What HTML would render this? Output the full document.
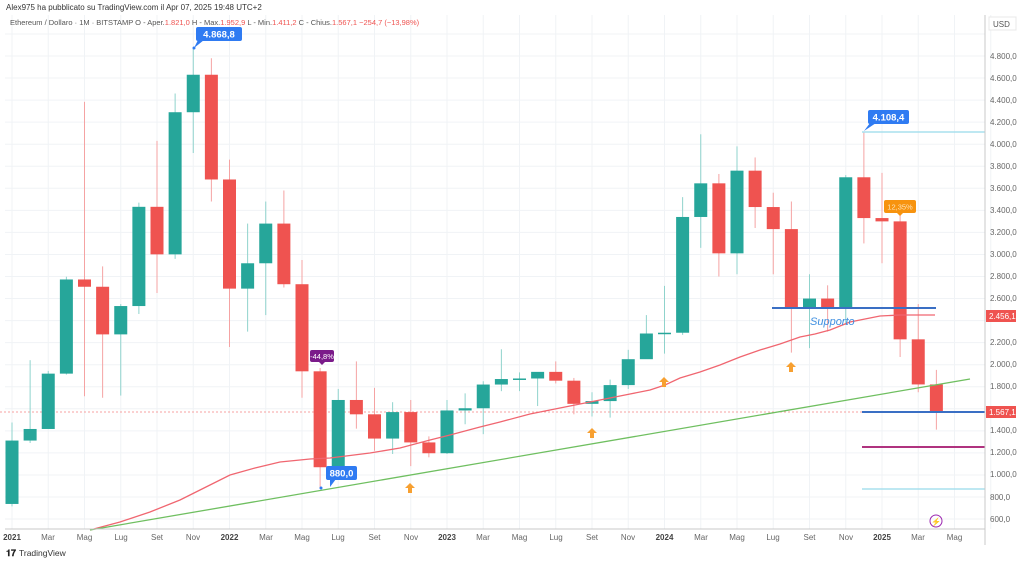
<!DOCTYPE html>
<html><head><meta charset="utf-8"><style>
body{margin:0;width:1024px;height:564px;background:#fff;overflow:hidden;font-family:"Liberation Sans",sans-serif}
svg{position:absolute;left:0;top:0}
</style></head><body>
<svg id="s" width="1024" height="564" xmlns="http://www.w3.org/2000/svg" font-family="Liberation Sans, sans-serif">
<rect x="0" y="0" width="1024" height="564" fill="#fff"/>
<g id="grid"></g>
<line x1="0" y1="412" x2="985" y2="412" stroke="#f7a1a0" stroke-dasharray="2,2" stroke-width="1"/>
<g id="candles"></g>
<polyline fill="none" stroke="#f06670" stroke-width="1.3" points="90,530 120,522 150,512 180,500 200,490 230,475 255,468 280,462 310,459 330,458 370,453 400,448 430,440 450,435 480,427 500,422 530,414 550,410 580,404 600,400 630,394 650,390 665,385 680,378 700,372 720,365 740,357 760,350 780,344 800,337 815,334 830,330 850,322 865,319 880,316 900,315 935,315"/>
<line x1="90" y1="530" x2="970" y2="379" stroke="#6fbf60" stroke-width="1.3"/>
<line x1="772" y1="308" x2="936" y2="308" stroke="#3a6fc4" stroke-width="2"/>
<text x="810" y="325" font-size="11" font-style="italic" fill="#3f8fe0">Supporto</text>
<line x1="862" y1="412" x2="985" y2="412" stroke="#3a6fc4" stroke-width="2"/>
<line x1="862" y1="447" x2="985" y2="447" stroke="#b0337f" stroke-width="2"/>
<line x1="862" y1="489" x2="985" y2="489" stroke="#a8e0ee" stroke-width="1.5"/>
<line x1="862" y1="132" x2="985" y2="132" stroke="#a8e0ee" stroke-width="1.5"/>
<!-- arrows -->
<g fill="#f7a031">
<path d="M410,483 l-5,5 h3 v5 h4 v-5 h3 z"/>
<path d="M592,428 l-5,5 h3 v5 h4 v-5 h3 z"/>
<path d="M664,377 l-5,5 h3 v5 h4 v-5 h3 z"/>
<path d="M791,362 l-5,5 h3 v5 h4 v-5 h3 z"/>
</g>
<!-- callouts -->
<rect x="196" y="27" width="46" height="14" rx="2" fill="#2f7bf2"/><path d="M198,40 l6,0 l-10,8 z" fill="#2f7bf2"/>
<circle cx="194" cy="48" r="1.5" fill="#2f7bf2"/>
<text x="219" y="37.5" font-size="9.5" font-weight="bold" fill="#fff" text-anchor="middle">4.868,8</text>
<rect x="868" y="110" width="41" height="14" rx="2" fill="#2f7bf2"/><path d="M870,123 l6,0 l-12,8 z" fill="#2f7bf2"/>
<text x="888.5" y="120.5" font-size="9.5" font-weight="bold" fill="#fff" text-anchor="middle">4.108,4</text>
<rect x="884" y="200" width="32" height="13" rx="2" fill="#f7930f"/><path d="M896,212 l8,0 l-4,4 z" fill="#f7930f"/>
<text x="900" y="209.5" font-size="7.5" fill="#fde3b8" text-anchor="middle">12,35%</text>
<rect x="310" y="350" width="24" height="12" rx="2" fill="#7b1b8a"/><path d="M318,361 l8,0 l-4,4 z" fill="#7b1b8a"/>
<text x="322" y="359" font-size="7.5" fill="#fff" text-anchor="middle">-44,8%</text>
<rect x="326" y="466" width="31" height="14" rx="2" fill="#2f7bf2"/><path d="M330,479 l6,0 l-6,8 z" fill="#2f7bf2"/>
<circle cx="321" cy="488" r="1.5" fill="#2f7bf2"/>
<text x="341.5" y="476.5" font-size="9.5" font-weight="bold" fill="#fff" text-anchor="middle">880,0</text>
<circle cx="936" cy="521" r="6" fill="none" stroke="#9c27b0" stroke-width="1"/>
<text x="936" y="524.5" font-size="8" fill="#9c27b0" text-anchor="middle">⚡</text>
<!-- axes -->
<line x1="985" y1="15" x2="985" y2="545" stroke="#c8c8c8"/>
<line x1="5" y1="529" x2="985" y2="529" stroke="#c8c8c8"/>
<rect x="989" y="17" width="27" height="13" fill="#fff" stroke="#e8e8e8"/>
<text x="993" y="27" font-size="8" fill="#555">USD</text>
<g font-size="8" fill="#666">
<text x="990" y="59">4.800,0</text><text x="990" y="81">4.600,0</text><text x="990" y="103">4.400,0</text><text x="990" y="125">4.200,0</text><text x="990" y="147">4.000,0</text><text x="990" y="169">3.800,0</text><text x="990" y="191">3.600,0</text><text x="990" y="213">3.400,0</text><text x="990" y="235">3.200,0</text><text x="990" y="257">3.000,0</text><text x="990" y="279">2.800,0</text><text x="990" y="301">2.600,0</text><text x="990" y="345">2.200,0</text><text x="990" y="367">2.000,0</text><text x="990" y="389">1.800,0</text><text x="990" y="433">1.400,0</text><text x="990" y="455">1.200,0</text><text x="990" y="477">1.000,0</text><text x="990" y="500">800,0</text><text x="990" y="522">600,0</text>
</g>
<rect x="986" y="310" width="30" height="12" fill="#ef5350"/><text x="989" y="319" font-size="8" fill="#fff">2.456,1</text>
<rect x="986" y="406" width="30" height="12" fill="#ef5350"/><text x="989" y="415" font-size="8" fill="#fff">1.567,1</text>
<g font-size="8" fill="#666" text-anchor="middle">
<text x="12" y="540" font-weight="bold" fill="#444">2021</text><text x="48" y="540">Mar</text><text x="84.5" y="540">Mag</text><text x="121" y="540">Lug</text><text x="157" y="540">Set</text><text x="193" y="540">Nov</text>
<text x="229.5" y="540" font-weight="bold" fill="#444">2022</text><text x="266" y="540">Mar</text><text x="302" y="540">Mag</text><text x="338" y="540">Lug</text><text x="374.5" y="540">Set</text><text x="411" y="540">Nov</text>
<text x="447" y="540" font-weight="bold" fill="#444">2023</text><text x="483" y="540">Mar</text><text x="519.5" y="540">Mag</text><text x="556" y="540">Lug</text><text x="592" y="540">Set</text><text x="628" y="540">Nov</text>
<text x="664.5" y="540" font-weight="bold" fill="#444">2024</text><text x="701" y="540">Mar</text><text x="737" y="540">Mag</text><text x="773" y="540">Lug</text><text x="809.5" y="540">Set</text><text x="846" y="540">Nov</text>
<text x="882" y="540" font-weight="bold" fill="#444">2025</text><text x="918" y="540">Mar</text><text x="954.5" y="540">Mag</text>
</g>
<text x="6" y="10" font-size="8" fill="#333">Alex975 ha pubblicato su TradingView.com il Apr 07, 2025 19:48 UTC+2</text>
<text x="10" y="25" font-size="7.5" fill="#555">Ethereum / Dollaro · 1M · BITSTAMP  O - Aper.<tspan fill="#ef5350">1.821,0</tspan>  H - Max.<tspan fill="#ef5350">1.952,9</tspan>  L - Min.<tspan fill="#ef5350">1.411,2</tspan>  C - Chius.<tspan fill="#ef5350">1.567,1  −254,7 (−13,98%)</tspan></text>
<text x="6" y="556" font-size="9" font-weight="bold" fill="#222">𝟏𝟕</text>
<text x="19" y="556" font-size="8.5" fill="#333">TradingView</text>
</svg>
<script>
var d=[[737,1476,715,1312],[1312,2041,1290,1417],[1417,1944,1432,1919],[1919,2798,1910,2773],[2773,4384,1714,2707],[2707,2892,1700,2275],[2275,2550,1720,2532],[2532,3470,2460,3432],[3432,4030,2650,3001],[3001,4460,2960,4290],[4290,4868,3920,4630],[4630,4780,3480,3680],
[3680,3860,2160,2690],[2690,3280,2300,2920],[2920,3480,2450,3280],[3280,3580,2700,2730],[2730,2950,1700,1940],[1940,1970,880,1070],[1070,1780,1000,1680],[1680,2030,1420,1550],[1550,1790,1220,1330],[1330,1660,1190,1570],[1570,1680,1080,1295],[1295,1350,1160,1197],
[1197,1680,1190,1585],[1585,1740,1460,1605],[1605,1850,1370,1820],[1820,2140,1760,1870],[1870,1930,1760,1875],[1875,1930,1625,1935],[1935,2030,1830,1855],[1855,1880,1550,1645],[1645,1750,1530,1670],[1670,1865,1520,1815],[1815,2135,1780,2050],[2050,2450,2130,2283],
[2283,2715,2100,2290],[2290,3520,2270,3340],[3340,4090,3060,3645],[3645,3730,2800,3010],[3010,3980,2820,3760],[3760,3880,3240,3430],[3430,3560,2820,3230],[3230,3480,2110,2510],[2510,2820,2150,2600],[2600,2720,2300,2510],[2510,3720,2360,3700],[3700,4108,3100,3330],
[3330,3740,2920,3300],[3300,3430,2070,2230],[2230,2550,1750,1821],[1821,1953,1411,1567]];
function Y(v){return 56+(4800-v)*0.11025}
var ns="http://www.w3.org/2000/svg",g=document.getElementById('candles'),gr=document.getElementById('grid');
function el(p,t,a){var e=document.createElementNS(ns,t);for(var k in a)e.setAttribute(k,a[k]);p.appendChild(e);}
for(var v=600;v<=5000;v+=200)el(gr,'line',{x1:5,x2:985,y1:Y(v),y2:Y(v),stroke:'#f0f3f6'});
for(var m=0;m<=54;m+=2){var x=12+18.125*m;el(gr,'line',{x1:x,x2:x,y1:15,y2:529,stroke:'#f0f3f6'});}
d.forEach(function(c,i){var x=12+18.125*i,up=c[3]>=c[0],col=up?'#26a69a':'#ef5350',wc=up?'#8fd3cc':'#f5a3a3';
el(g,'line',{x1:x,x2:x,y1:Y(c[1]),y2:Y(c[2]),stroke:wc,'stroke-width':1});
var t=Y(Math.max(c[0],c[3])),b=Y(Math.min(c[0],c[3]));el(g,'rect',{x:x-6.5,y:t,width:13,height:Math.max(1.5,b-t),fill:col});});
</script>
</body></html>
